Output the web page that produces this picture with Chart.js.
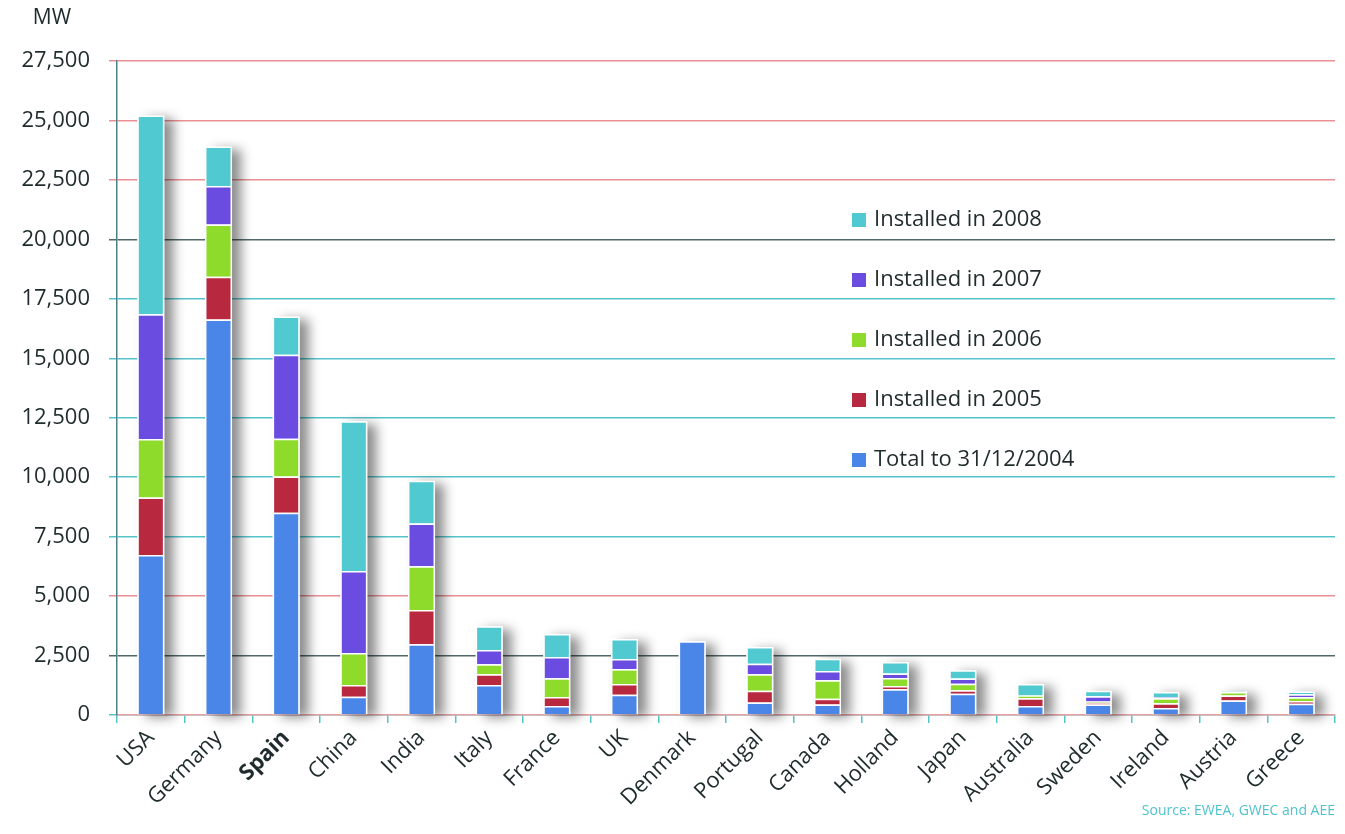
<!DOCTYPE html>
<html>
<head>
<meta charset="utf-8">
<script src="https://cdn.jsdelivr.net/npm/chart.js@4.4.0/dist/chart.umd.min.js"></script>
<style>
  html, body { margin: 0; padding: 0; background: #fff; }
  #wrap { width: 1345px; height: 834px; position: relative; }
</style>
</head>
<body>
<div id="wrap"><canvas id="myChart" width="1345" height="834"></canvas></div>
<script>
var countries = ['USA', 'Germany', 'Spain', 'China', 'India', 'Italy', 'France', 'UK', 'Denmark', 'Portugal', 'Canada', 'Holland', 'Japan', 'Australia', 'Sweden', 'Ireland', 'Austria', 'Greece'];
var total2004 = [6725, 16629, 8504, 764, 2980, 1265, 380, 850, 3100, 522, 444, 1078, 896, 379, 442, 290, 606, 473];
var inst2005 = [2424, 1799, 1524, 496, 1430, 452, 377, 450, 0, 500, 239, 141, 144, 329, 68, 200, 213, 100];
var inst2006 = [2454, 2194, 1587, 1344, 1840, 417, 790, 630, 0, 694, 777, 341, 269, 109, 61, 210, 146, 173];
var inst2007 = [5244, 1625, 3530, 3450, 1800, 603, 887, 425, 0, 434, 386, 187, 229, 7, 217, 60, 17, 125];
var inst2008 = [8358, 1656, 1609, 6300, 1800, 1000, 970, 840, 0, 712, 523, 478, 342, 482, 233, 210, 13, 114];
var yTicks = [0, 2500, 5000, 7500, 10000, 12500, 15000, 17500, 20000, 22500, 25000, 27500];

var FONT = "'Open Sans', 'Noto Sans', sans-serif";
var textColor = '#1f2b2c';

// grid colours as in the picture (pink / dark / teal)
function gridColor(v) {
    if (v >= 22500 || v == 5000) return '#ea8f93';
    if (v == 20000 || v == 2500) return '#53686a';
    return '#55c3ca';
}

// shadow behind every full stack
var shadowPlugin = {
    id: 'stackShadow',
    beforeDatasetsDraw: function (chart) {
        var ctx = chart.ctx;
        var meta = chart.getDatasetMeta(0);
        var y = chart.scales.y;
        ctx.save();
        ctx.shadowColor = 'rgba(0,0,0,0.45)';
        ctx.shadowBlur = 12;
        ctx.shadowOffsetX = 9;
        ctx.shadowOffsetY = 3;
        ctx.fillStyle = '#ffffff';
        meta.data.forEach(function (bar, i) {
            var sum = 0;
            chart.data.datasets.forEach(function (ds) { sum += ds.data[i]; });
            var top = y.getPixelForValue(sum);
            ctx.fillRect(bar.x - bar.width / 2, top, bar.width, bar.base - top);
        });
        ctx.restore();
    }
};

// legend inside plot + MW + source
var textPlugin = {
    id: 'texts',
    afterDraw: function (chart) {
        var ctx = chart.ctx;
        ctx.save();
        ctx.fillStyle = textColor;
        ctx.font = '21px ' + FONT;
        ctx.textAlign = 'center';
        ctx.textBaseline = 'middle';
        ctx.fillText('MW', 52, 18);

        ctx.font = '22px ' + FONT;
        var sets = chart.data.datasets.slice().reverse();
        sets.forEach(function (ds, k) {
            var yy = 220 + k * 60;
            ctx.fillStyle = ds.backgroundColor;
            ctx.fillRect(852, yy - 7, 14, 14);
            ctx.fillStyle = textColor;
            ctx.textAlign = 'left';
            ctx.fillText(ds.label, 874, yy);
        });

        ctx.font = '14px ' + FONT;
        ctx.fillStyle = '#4fc3cb';
        ctx.textAlign = 'right';
        ctx.fillText('Source: EWEA, GWEC and AEE', 1335, 811);
        ctx.restore();
    }
};

var ctx = document.getElementById('myChart').getContext('2d');
var myChart = new Chart(ctx, {
    type: 'bar',
    data: {
        labels: countries,
        datasets: [
            { label: 'Total to 31/12/2004', data: total2004, backgroundColor: '#4a86e8' },
            { label: 'Installed in 2005', data: inst2005, backgroundColor: '#b8293f' },
            { label: 'Installed in 2006', data: inst2006, backgroundColor: '#8edb2c' },
            { label: 'Installed in 2007', data: inst2007, backgroundColor: '#6a4ce0' },
            { label: 'Installed in 2008', data: inst2008, backgroundColor: '#50c9d1' }
        ].map(function (d) {
            d.borderColor = '#ffffff';
            d.borderWidth = 1.5;
            d.barPercentage = 0.4;
            d.categoryPercentage = 1.0;
            return d;
        })
    },
    plugins: [shadowPlugin, textPlugin],
    options: {
        responsive: false,
        animation: false,
        layout: { padding: { left: 0, top: 61, right: 10, bottom: 0 } },
        plugins: {
            legend: { display: false },
            tooltip: { enabled: false }
        },
        scales: {
            x: {
                stacked: true,
                grid: {
                    offset: true,
                    drawOnChartArea: false,
                    tickLength: 8,
                    color: '#55c3ca',
                    lineWidth: 1.5
                },
                border: { color: '#ea9ea2', width: 1.5 },
                ticks: {
                    minRotation: 45,
                    maxRotation: 45,
                    padding: 2,
                    color: textColor,
                    font: function (c) {
                        var lbl = c.tick ? c.tick.label : '';
                        return { family: FONT, size: 22, weight: lbl == 'Spain' ? 'bold' : 'normal' };
                    }
                },
                afterFit: function (s) { s.height = 119; }
            },
            y: {
                stacked: true,
                min: 0,
                max: 27500,
                afterBuildTicks: function (s) {
                    s.ticks = yTicks.map(function (v) { return { value: v }; });
                },
                grid: {
                    tickLength: 8,
                    lineWidth: 1.5,
                    color: function (c) { return c.tick ? gridColor(c.tick.value) : '#55c3ca'; }
                },
                border: { color: '#4f7f86', width: 1.5 },
                ticks: {
                    padding: 19,
                    color: textColor,
                    font: { family: FONT, size: 22 },
                    callback: function (v) { return v.toLocaleString('en-US'); }
                },
                afterFit: function (s) { s.width = 117; }
            }
        }
    }
});
</script>
</body>
</html>
